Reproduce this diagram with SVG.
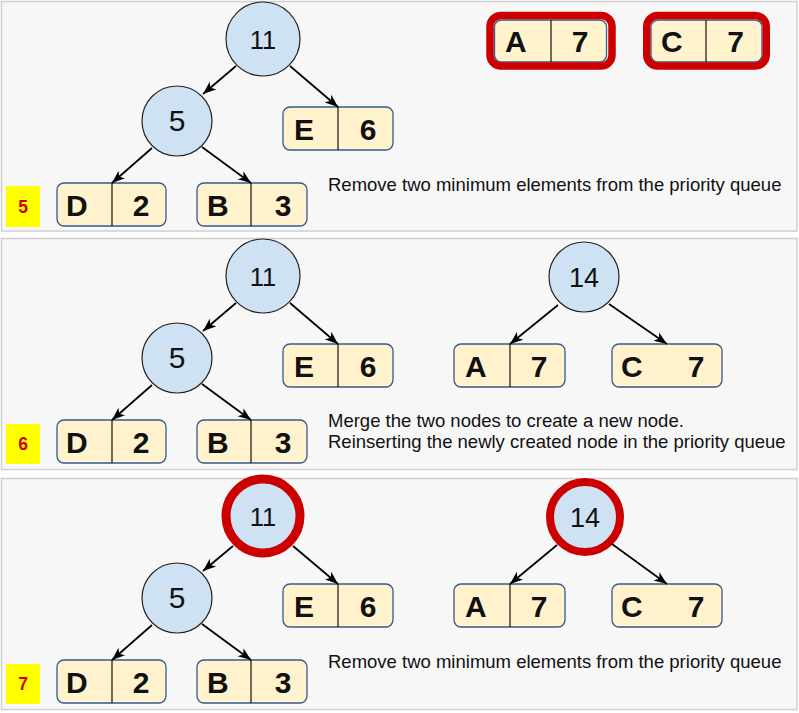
<svg xmlns="http://www.w3.org/2000/svg" width="799" height="713" viewBox="0 0 799 713">
<defs>
<marker id="arr" markerUnits="userSpaceOnUse" markerWidth="14" markerHeight="12" refX="13" refY="6" orient="auto">
<path d="M0,1 L13,6 L0,11 L3.5,6 z" fill="#000"/>
</marker>
<style>
.panel{fill:#f7f7f7;stroke:#d0d0d0;stroke-width:1.5}
.circ{fill:#cfe2f3;stroke:#222;stroke-width:1.2}
.circR{fill:#cfe2f3;stroke:#cc0000}
.box{fill:#fff2cc;stroke:#36598f;stroke-width:1.3}
.div{stroke:#111;stroke-width:1.2}
.hl{fill:none;stroke:#cc0000;stroke-width:7.5}
.lbl{fill:#ffff00}
.lblt{font-family:"Liberation Sans",Arial,sans-serif;font-weight:bold;font-size:17.5px;fill:#cc0000;text-anchor:middle}
.ct{font-family:"Liberation Sans",Arial,sans-serif;font-size:25.5px;fill:#111;text-anchor:middle}
.bt{font-family:"Liberation Sans",Arial,sans-serif;font-weight:bold;font-size:30px;fill:#111}
.bn{font-family:"Liberation Sans",Arial,sans-serif;font-weight:bold;font-size:30px;fill:#111;text-anchor:middle}
.desc{font-family:"Liberation Sans",Arial,sans-serif;font-size:18.5px;fill:#111}
.edge{stroke:#000;stroke-width:1.7;fill:none;marker-end:url(#arr)}
</style>
</defs>

<g id="panels">
<rect class="panel" x="1.5" y="1.5" width="795.5" height="229.5"/>
<rect class="panel" x="1.5" y="238.5" width="795.5" height="231"/>
<rect class="panel" x="1.5" y="478.5" width="795.5" height="231"/>
</g>

<!-- Panel 1 -->
<g id="p1-label"><rect class="lbl" x="6" y="186" width="34" height="41"/><text class="lblt" x="23" y="213">5</text></g>
<g id="p1-n11"><circle class="circ" cx="263" cy="39" r="37"/><text class="ct" x="263" y="49">11</text></g>
<g id="p1-n5"><circle class="circ" cx="177" cy="121" r="35"/><text class="ct" style="font-size:30px" x="177" y="131">5</text></g>
<g id="p1-E"><rect class="box" x="283" y="107" width="110" height="43" rx="7"/><line class="div" x1="338" y1="107" x2="338" y2="150"/><text class="bt" x="294" y="139.5">E</text><text class="bn" x="368" y="139.5">6</text></g>
<g id="p1-D"><rect class="box" x="57" y="183" width="109" height="43" rx="7"/><line class="div" x1="112" y1="183" x2="112" y2="226"/><text class="bt" x="66" y="215.5">D</text><text class="bn" x="141" y="215.5">2</text></g>
<g id="p1-B"><rect class="box" x="197" y="183" width="110" height="43" rx="7"/><line class="div" x1="251" y1="183" x2="251" y2="226"/><text class="bt" x="207" y="215.5">B</text><text class="bn" x="283" y="215.5">3</text></g>
<g id="p1-A"><rect class="box" x="494.5" y="20" width="112" height="42" rx="7"/><line class="div" x1="551" y1="20" x2="551" y2="62"/><text class="bt" x="505" y="52">A</text><text class="bn" x="580" y="52">7</text><rect class="hl" x="490" y="15.5" width="122" height="50.5" rx="11"/></g>
<g id="p1-C"><rect class="box" x="651" y="20" width="111" height="42" rx="7"/><line class="div" x1="706" y1="20" x2="706" y2="62"/><text class="bt" x="661" y="52">C</text><text class="bn" x="735.5" y="52">7</text><rect class="hl" x="646.75" y="15.5" width="119.5" height="50.5" rx="11"/></g>
<text class="desc" x="328" y="191">Remove two minimum elements from the priority queue</text>

<!-- Panel 2 -->
<g id="p2-label"><rect class="lbl" x="6" y="424" width="34" height="40"/><text class="lblt" x="23" y="450">6</text></g>
<g id="p2-n11"><circle class="circ" cx="263" cy="276" r="37"/><text class="ct" x="263" y="286">11</text></g>
<g id="p2-n5"><circle class="circ" cx="177" cy="358" r="35"/><text class="ct" style="font-size:30px" x="177" y="368">5</text></g>
<g id="p2-E"><rect class="box" x="283" y="344" width="110" height="43" rx="7"/><line class="div" x1="338" y1="344" x2="338" y2="387"/><text class="bt" x="294" y="376.5">E</text><text class="bn" x="368" y="376.5">6</text></g>
<g id="p2-D"><rect class="box" x="57" y="420" width="109" height="43" rx="7"/><line class="div" x1="112" y1="420" x2="112" y2="463"/><text class="bt" x="66" y="452.5">D</text><text class="bn" x="141" y="452.5">2</text></g>
<g id="p2-B"><rect class="box" x="197" y="420" width="110" height="43" rx="7"/><line class="div" x1="251" y1="420" x2="251" y2="463"/><text class="bt" x="207" y="452.5">B</text><text class="bn" x="283" y="452.5">3</text></g>
<g id="p2-n14"><circle class="circ" cx="584" cy="277" r="35"/><text class="ct" style="font-size:27px" x="584" y="287">14</text></g>
<g id="p2-A"><rect class="box" x="454" y="344" width="111" height="43" rx="7"/><line class="div" x1="510" y1="344" x2="510" y2="387"/><text class="bt" x="465" y="376.5">A</text><text class="bn" x="539" y="376.5">7</text></g>
<g id="p2-C"><rect class="box" x="612" y="344" width="110" height="43" rx="7"/><text class="bt" x="621" y="376.5">C</text><text class="bn" x="696" y="376.5">7</text></g>
<text class="desc" x="328" y="427">Merge the two nodes to create a new node.</text>
<text class="desc" x="328" y="448">Reinserting the newly created node in the priority queue</text>

<!-- Panel 3 -->
<g id="p3-label"><rect class="lbl" x="6" y="664" width="34" height="40"/><text class="lblt" x="23" y="690">7</text></g>
<g id="p3-n11"><circle class="circR" style="stroke-width:9" cx="263" cy="516" r="37"/><text class="ct" x="263" y="526">11</text></g>
<g id="p3-n5"><circle class="circ" cx="177" cy="598" r="35"/><text class="ct" style="font-size:30px" x="177" y="608">5</text></g>
<g id="p3-E"><rect class="box" x="283" y="584" width="110" height="43" rx="7"/><line class="div" x1="338" y1="584" x2="338" y2="627"/><text class="bt" x="294" y="616.5">E</text><text class="bn" x="368" y="616.5">6</text></g>
<g id="p3-D"><rect class="box" x="57" y="660" width="109" height="43" rx="7"/><line class="div" x1="112" y1="660" x2="112" y2="703"/><text class="bt" x="66" y="692.5">D</text><text class="bn" x="141" y="692.5">2</text></g>
<g id="p3-B"><rect class="box" x="197" y="660" width="110" height="43" rx="7"/><line class="div" x1="251" y1="660" x2="251" y2="703"/><text class="bt" x="207" y="692.5">B</text><text class="bn" x="283" y="692.5">3</text></g>
<g id="p3-n14"><circle class="circR" style="stroke-width:8" cx="585" cy="517" r="35"/><text class="ct" style="font-size:27px" x="585" y="527">14</text></g>
<g id="p3-A"><rect class="box" x="454" y="584" width="111" height="43" rx="7"/><line class="div" x1="510" y1="584" x2="510" y2="627"/><text class="bt" x="465" y="616.5">A</text><text class="bn" x="539" y="616.5">7</text></g>
<g id="p3-C"><rect class="box" x="612" y="584" width="110" height="43" rx="7"/><text class="bt" x="621" y="616.5">C</text><text class="bn" x="696" y="616.5">7</text></g>
<text class="desc" x="328" y="668">Remove two minimum elements from the priority queue</text>

<g id="connectors">
<line class="edge" x1="236" y1="66" x2="203" y2="94"/>
<line class="edge" x1="290" y1="66" x2="338" y2="107"/>
<line class="edge" x1="152" y1="148" x2="112" y2="183"/>
<line class="edge" x1="202" y1="147" x2="251" y2="183"/>

<line class="edge" x1="236" y1="303" x2="203" y2="331"/>
<line class="edge" x1="290" y1="303" x2="338" y2="344"/>
<line class="edge" x1="152" y1="385" x2="112" y2="420"/>
<line class="edge" x1="202" y1="384" x2="251" y2="420"/>
<line class="edge" x1="558" y1="305" x2="510" y2="344"/>
<line class="edge" x1="609" y1="304" x2="667" y2="344"/>

<line class="edge" x1="233" y1="546" x2="203" y2="571"/>
<line class="edge" x1="293" y1="546" x2="338" y2="584"/>
<line class="edge" x1="152" y1="625" x2="112" y2="660"/>
<line class="edge" x1="202" y1="624" x2="251" y2="660"/>
<line class="edge" x1="557" y1="545" x2="510" y2="584"/>
<line class="edge" x1="612" y1="544" x2="667" y2="584"/>
</g>
</svg>
